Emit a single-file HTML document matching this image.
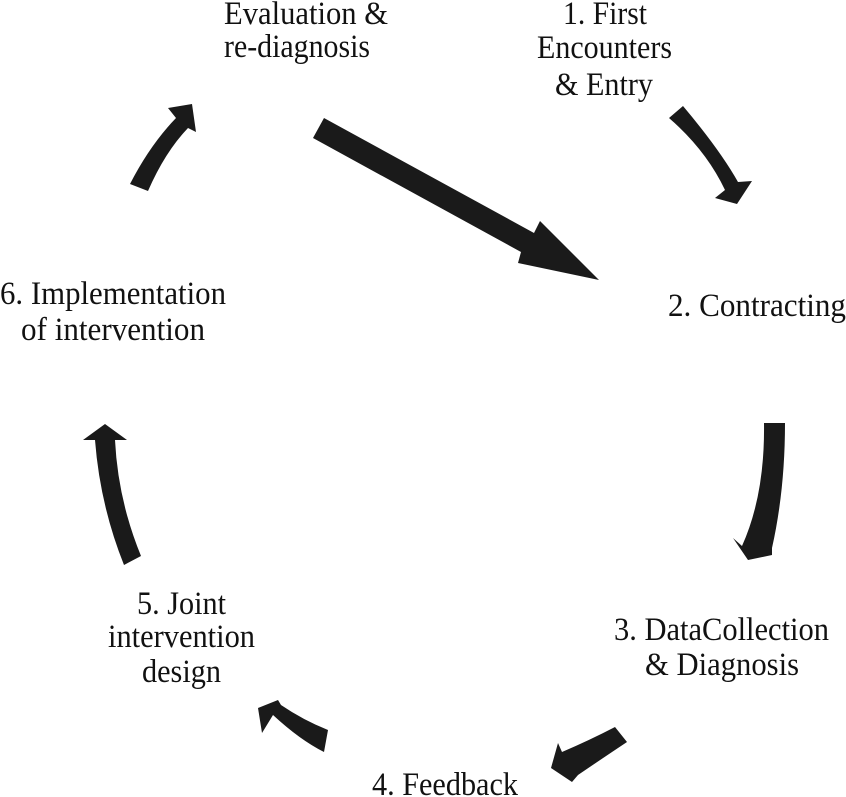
<!DOCTYPE html>
<html><head><meta charset="utf-8"><style>
body{margin:0;background:#fff;}
svg{display:block}
text{font-family:"Liberation Serif",serif;font-size:33px;fill:#111;}
</style></head><body>
<svg width="846" height="797" viewBox="0 0 846 797" xmlns="http://www.w3.org/2000/svg">
<g fill="#1a1a1a">
<polygon points="324,118 534,233 540,221 599,280 518,263 521,252 313,138"/>
<path d="M669,118 L683,106 Q720,150 738,182 L752,181 L737,204 L715,198 L725,190 Q706,150 669,118 Z"/>
<path d="M130,184 L148,191 Q165,152 188,128 L196,132 L192,104 L168,108 L176,118 Q150,145 130,184 Z"/>
<path d="M764,423 L785,423 Q785,490 772,548 L772,555 L748,560 L733,538 L742,546 Q765,495 764,423 Z"/>
<path d="M615,727 L627,742 Q600,760 578,775 L572,782 L551,768 L558,743 L562,752 Q590,740 615,727 Z"/>
<path d="M328,730 L324,752 Q300,740 273,715 L262,733 L258,708 L278,700 L281,705 Q303,720 328,730 Z"/>
<path d="M124,565 L141,556 Q118,500 115,440 L127,440 L105,424 L83,440 L95,440 Q100,505 124,565 Z"/>
</g>
<text x="224" y="24" textLength="164" lengthAdjust="spacingAndGlyphs">Evaluation &amp;</text>
<text x="224" y="57" textLength="146" lengthAdjust="spacingAndGlyphs">re-diagnosis</text>
<text x="563" y="24" textLength="84" lengthAdjust="spacingAndGlyphs">1. First</text>
<text x="537" y="58" textLength="135" lengthAdjust="spacingAndGlyphs">Encounters</text>
<text x="555" y="95" textLength="98" lengthAdjust="spacingAndGlyphs">&amp; Entry</text>
<text x="668" y="316" textLength="178" lengthAdjust="spacingAndGlyphs">2. Contracting</text>
<text x="0" y="304" textLength="226" lengthAdjust="spacingAndGlyphs">6. Implementation</text>
<text x="21" y="340" textLength="184" lengthAdjust="spacingAndGlyphs">of intervention</text>
<text x="137" y="614" textLength="89" lengthAdjust="spacingAndGlyphs">5. Joint</text>
<text x="108" y="647" textLength="147" lengthAdjust="spacingAndGlyphs">intervention</text>
<text x="142" y="682" textLength="79" lengthAdjust="spacingAndGlyphs">design</text>
<text x="614" y="640" textLength="215" lengthAdjust="spacingAndGlyphs">3. DataCollection</text>
<text x="645" y="675" textLength="154" lengthAdjust="spacingAndGlyphs">&amp; Diagnosis</text>
<text x="372" y="795" textLength="146" lengthAdjust="spacingAndGlyphs">4. Feedback</text>
</svg>
</body></html>
